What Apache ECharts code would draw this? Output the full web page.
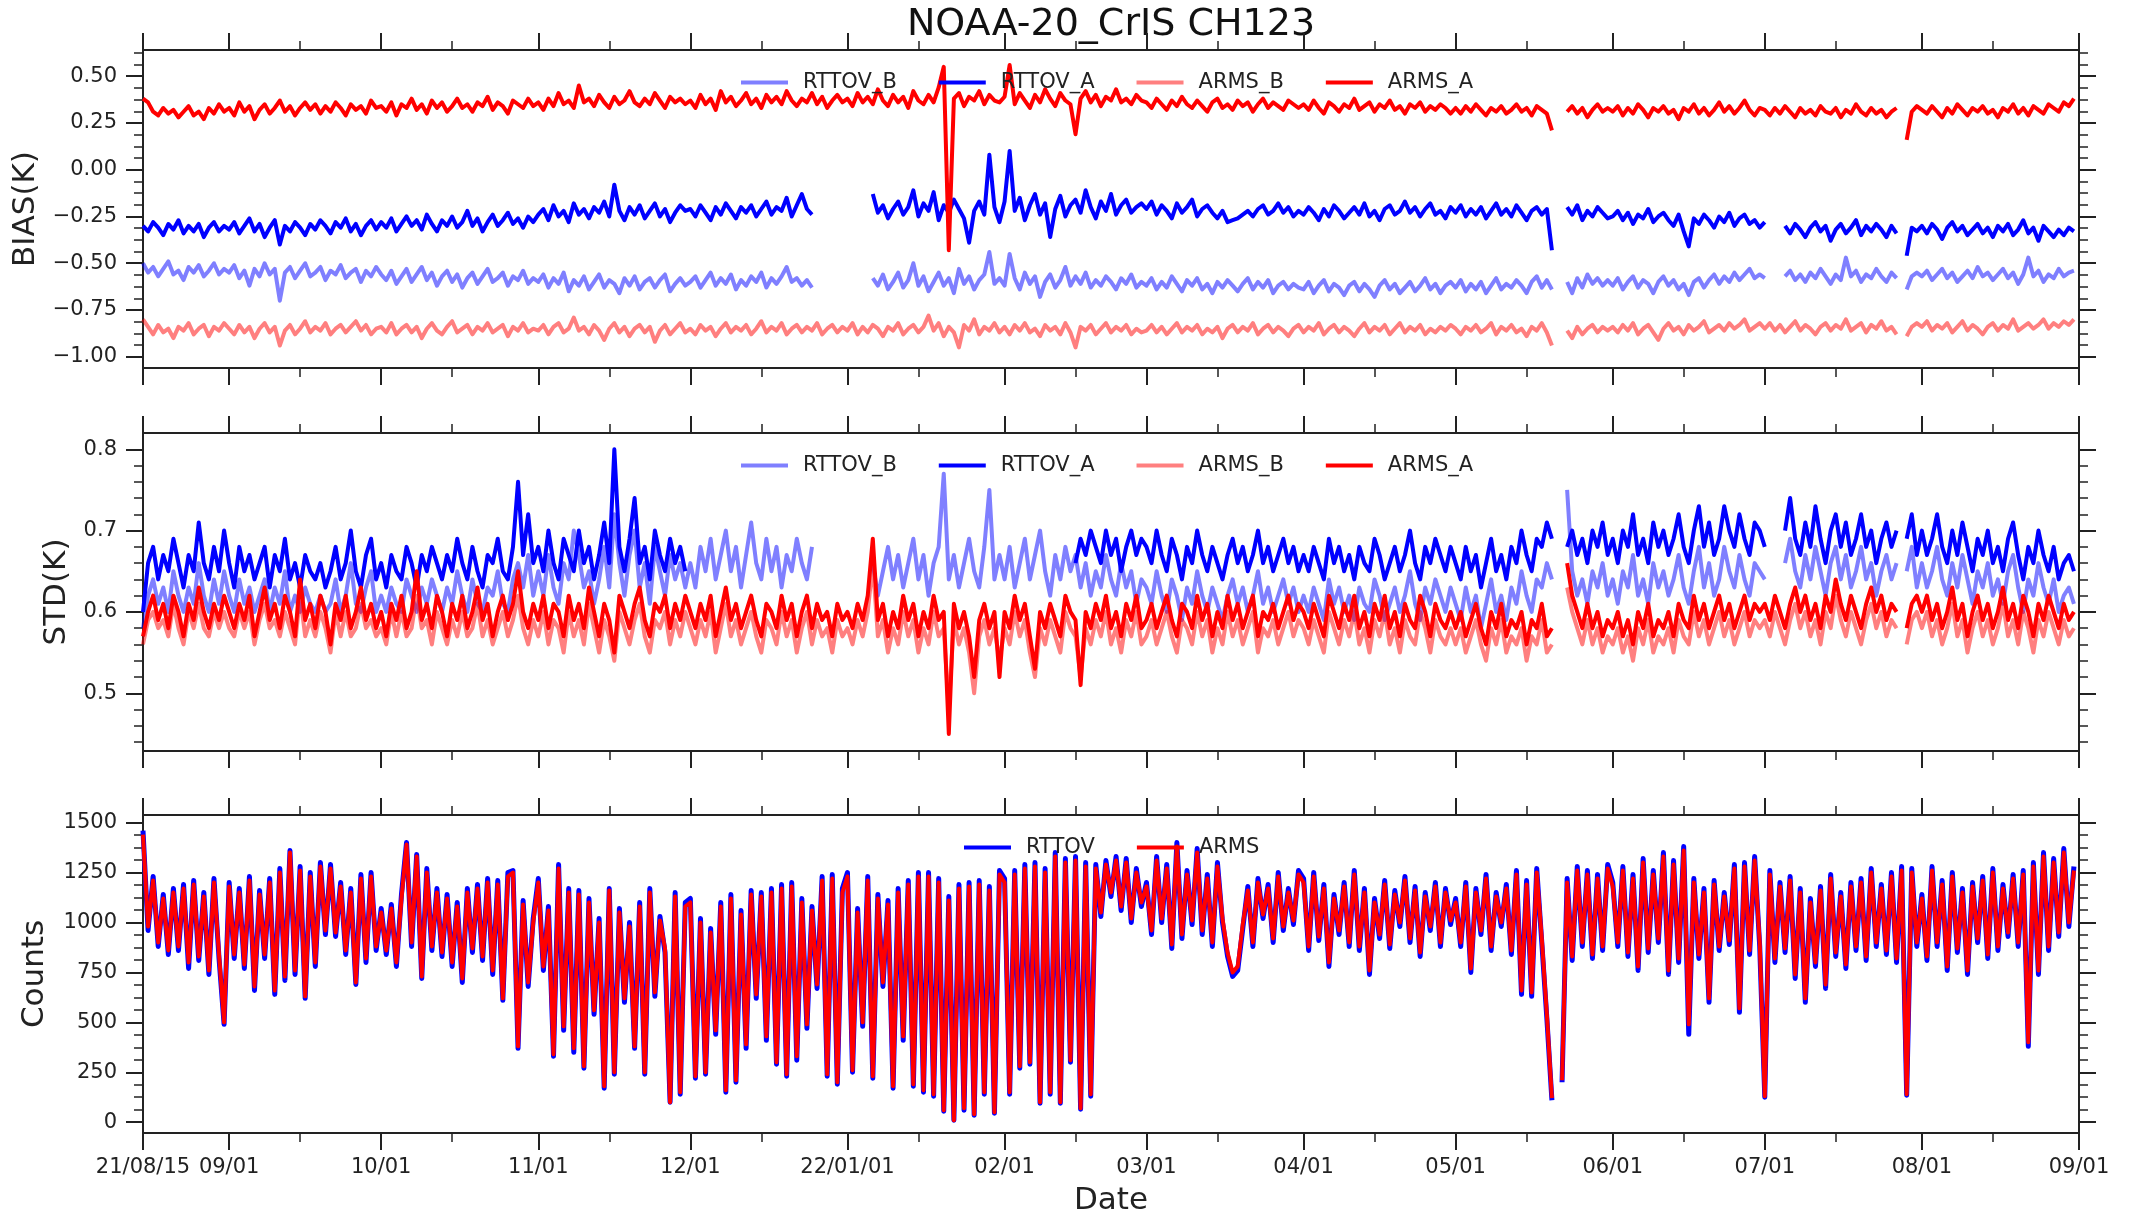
<!DOCTYPE html>
<html>
<head>
<meta charset="utf-8">
<script src="https://cdn.jsdelivr.net/npm/echarts@6.0.0/dist/echarts.min.js"></script>
<style>html,body{margin:0;padding:0;background:#fff;}</style>
</head>
<body>
<div id="main" style="width:2131px;height:1218px;"></div>
<script type="text/javascript">
// one value per day from 2021-08-15 to 2022-08-31, null = no data
// lines per month: Aug(17) Sep Oct Nov Dec Jan Feb Mar Apr May Jun Jul Aug
var biasRttovB = [
-.50,-.55,-.52,-.57,-.53,-.49,-.56,-.54,-.59,-.52,-.55,-.51,-.57,-.54,-.50,-.56,-.53,
-.55,-.51,-.58,-.54,-.62,-.53,-.57,-.50,-.56,-.53,-.70,-.55,-.52,-.58,-.54,-.50,-.57,-.55,-.52,-.59,-.54,-.56,-.51,-.58,-.55,-.53,-.60,-.54,-.57,-.52,
-.56,-.59,-.54,-.61,-.57,-.53,-.60,-.56,-.52,-.59,-.55,-.62,-.57,-.54,-.60,-.56,-.63,-.58,-.55,-.61,-.57,-.53,-.60,-.58,-.55,-.62,-.57,-.59,-.54,-.61,-.58,
-.60,-.56,-.63,-.58,-.61,-.55,-.65,-.59,-.62,-.57,-.64,-.60,-.56,-.63,-.59,-.61,-.66,-.58,-.62,-.57,-.64,-.60,-.58,-.63,-.59,-.56,-.65,-.61,-.58,-.62,
-.60,-.57,-.63,-.59,-.55,-.62,-.58,-.61,-.56,-.64,-.59,-.62,-.57,-.60,-.55,-.63,-.58,-.61,-.57,-.52,-.60,-.58,-.62,-.59,-.63,null,null,null,null,null,null,
null,null,null,null,null,-.58,-.62,-.56,-.64,-.60,-.55,-.63,-.59,-.50,-.62,-.57,-.65,-.60,-.55,-.62,-.58,-.66,-.53,-.61,-.57,-.64,-.59,-.56,-.44,-.61,-.58,
-.62,-.45,-.58,-.64,-.55,-.61,-.57,-.68,-.60,-.56,-.63,-.59,-.52,-.62,-.57,-.61,-.55,-.63,-.59,-.62,-.57,-.60,-.64,-.58,-.61,-.56,-.63,-.60,
-.62,-.58,-.64,-.60,-.63,-.57,-.61,-.65,-.59,-.62,-.58,-.64,-.61,-.66,-.60,-.63,-.59,-.62,-.65,-.61,-.58,-.64,-.60,-.63,-.59,-.66,-.62,-.60,-.64,-.61,-.63,
-.64,-.60,-.66,-.62,-.59,-.65,-.61,-.63,-.67,-.62,-.60,-.65,-.61,-.64,-.68,-.62,-.59,-.64,-.61,-.66,-.63,-.60,-.65,-.62,-.58,-.64,-.61,-.66,-.62,-.60,
-.63,-.59,-.65,-.61,-.64,-.60,-.66,-.62,-.58,-.64,-.61,-.63,-.59,-.62,-.66,-.60,-.57,-.63,-.59,-.64,null,null,-.60,-.66,-.58,-.63,-.56,-.61,-.58,-.62,-.59,
-.62,-.58,-.64,-.60,-.57,-.63,-.59,-.61,-.66,-.60,-.57,-.62,-.59,-.64,-.61,-.67,-.60,-.58,-.63,-.59,-.56,-.61,-.57,-.60,-.55,-.59,-.56,-.53,-.58,-.56,
-.58,null,null,null,-.57,-.54,-.59,-.56,-.60,-.55,-.58,-.53,-.57,-.61,-.56,-.59,-.47,-.57,-.54,-.60,-.56,-.58,-.53,-.57,-.60,-.55,-.58,null,-.64,-.57,-.55,
-.57,-.54,-.59,-.56,-.53,-.58,-.55,-.60,-.57,-.54,-.58,-.52,-.57,-.55,-.59,-.56,-.53,-.58,-.55,-.61,-.56,-.47,-.57,-.54,-.60,-.56,-.58,-.53,-.57,-.55,-.54
];
var biasRttovA = [
-.30,-.33,-.28,-.31,-.35,-.29,-.32,-.27,-.34,-.30,-.33,-.29,-.36,-.31,-.28,-.33,-.30,
-.32,-.28,-.34,-.30,-.26,-.33,-.29,-.36,-.31,-.27,-.40,-.30,-.33,-.28,-.31,-.35,-.29,-.32,-.27,-.30,-.34,-.28,-.31,-.26,-.33,-.29,-.35,-.30,-.27,-.32,
-.28,-.31,-.26,-.33,-.29,-.25,-.30,-.27,-.32,-.24,-.29,-.33,-.27,-.30,-.25,-.31,-.28,-.22,-.30,-.26,-.33,-.28,-.24,-.30,-.27,-.23,-.29,-.26,-.31,-.25,-.28,
-.24,-.21,-.27,-.19,-.25,-.22,-.28,-.18,-.24,-.21,-.26,-.20,-.23,-.17,-.25,-.08,-.22,-.27,-.20,-.24,-.19,-.26,-.22,-.18,-.25,-.21,-.28,-.23,-.19,-.22,
-.21,-.25,-.19,-.23,-.27,-.20,-.24,-.18,-.22,-.26,-.20,-.23,-.19,-.25,-.21,-.17,-.24,-.20,-.22,-.15,-.25,-.19,-.13,-.21,-.24,null,null,null,null,null,null,
null,null,null,null,null,-.13,-.23,-.19,-.26,-.21,-.17,-.24,-.20,-.11,-.25,-.18,-.22,-.12,-.27,-.19,-.23,-.16,-.21,-.26,-.39,-.22,-.17,-.24,.08,-.20,-.28,
-.17,.10,-.22,-.15,-.27,-.19,-.13,-.24,-.18,-.36,-.21,-.14,-.25,-.19,-.16,-.23,-.11,-.20,-.26,-.17,-.22,-.13,-.24,-.19,-.16,-.23,-.20,-.18,
-.21,-.17,-.24,-.19,-.22,-.26,-.18,-.23,-.20,-.16,-.25,-.21,-.19,-.23,-.26,-.22,-.28,-.27,-.26,-.24,-.22,-.25,-.21,-.19,-.24,-.22,-.18,-.23,-.20,-.25,-.22,
-.24,-.20,-.23,-.27,-.21,-.25,-.19,-.22,-.26,-.23,-.20,-.24,-.18,-.25,-.22,-.27,-.21,-.19,-.24,-.22,-.17,-.23,-.20,-.25,-.21,-.18,-.24,-.22,-.26,-.20,
-.23,-.19,-.25,-.21,-.24,-.20,-.26,-.22,-.18,-.24,-.21,-.25,-.19,-.23,-.27,-.22,-.20,-.24,-.21,-.43,null,null,-.20,-.24,-.19,-.27,-.22,-.25,-.20,-.23,-.26,
-.25,-.22,-.27,-.23,-.29,-.24,-.26,-.21,-.28,-.25,-.23,-.27,-.30,-.24,-.33,-.41,-.26,-.29,-.24,-.27,-.31,-.25,-.28,-.23,-.30,-.26,-.24,-.29,-.27,-.31,
-.28,null,null,null,-.30,-.34,-.29,-.32,-.36,-.31,-.28,-.33,-.30,-.38,-.32,-.29,-.34,-.31,-.27,-.35,-.30,-.33,-.29,-.32,-.36,-.30,-.34,null,-.46,-.31,-.33,
-.30,-.34,-.29,-.32,-.37,-.31,-.28,-.33,-.30,-.35,-.32,-.29,-.34,-.31,-.36,-.30,-.33,-.29,-.35,-.32,-.27,-.34,-.31,-.38,-.30,-.33,-.36,-.32,-.35,-.31,-.33
];
var biasArmsB = [
-.80,-.84,-.88,-.83,-.87,-.85,-.90,-.84,-.86,-.82,-.88,-.85,-.83,-.89,-.84,-.86,-.82,
-.85,-.88,-.83,-.87,-.84,-.90,-.85,-.82,-.87,-.84,-.94,-.86,-.83,-.88,-.85,-.81,-.87,-.84,-.86,-.82,-.88,-.85,-.83,-.87,-.84,-.81,-.86,-.83,-.88,-.85,
-.84,-.87,-.82,-.88,-.85,-.83,-.87,-.84,-.90,-.85,-.82,-.86,-.88,-.84,-.81,-.87,-.85,-.83,-.88,-.84,-.86,-.82,-.87,-.85,-.83,-.89,-.84,-.86,-.82,-.87,-.85,
-.86,-.83,-.88,-.84,-.82,-.87,-.85,-.79,-.86,-.84,-.88,-.83,-.86,-.91,-.85,-.82,-.87,-.84,-.89,-.85,-.83,-.87,-.84,-.92,-.86,-.83,-.88,-.85,-.82,-.87,
-.85,-.88,-.83,-.86,-.84,-.89,-.85,-.82,-.87,-.84,-.86,-.83,-.88,-.85,-.81,-.87,-.84,-.86,-.82,-.88,-.85,-.83,-.87,-.84,-.86,-.82,-.88,-.85,-.83,-.87,-.84,
-.86,-.82,-.88,-.84,-.87,-.83,-.85,-.89,-.84,-.86,-.82,-.88,-.85,-.83,-.87,-.84,-.78,-.86,-.82,-.89,-.84,-.87,-.95,-.83,-.86,-.80,-.88,-.84,-.86,-.82,-.87,
-.84,-.88,-.83,-.86,-.82,-.87,-.85,-.89,-.83,-.86,-.84,-.88,-.82,-.87,-.95,-.84,-.86,-.83,-.88,-.85,-.82,-.87,-.84,-.86,-.83,-.88,-.85,-.87,
-.86,-.83,-.87,-.84,-.88,-.85,-.82,-.87,-.84,-.86,-.83,-.88,-.85,-.87,-.84,-.90,-.85,-.83,-.87,-.84,-.86,-.82,-.88,-.85,-.83,-.87,-.84,-.86,-.89,-.85,-.83,
-.87,-.84,-.86,-.82,-.88,-.85,-.83,-.87,-.84,-.86,-.89,-.85,-.82,-.87,-.84,-.86,-.83,-.88,-.85,-.82,-.87,-.84,-.86,-.83,-.88,-.85,-.87,-.84,-.86,-.83,
-.85,-.88,-.84,-.86,-.83,-.87,-.85,-.82,-.88,-.84,-.86,-.83,-.87,-.85,-.89,-.84,-.86,-.82,-.87,-.94,null,null,-.86,-.90,-.84,-.88,-.85,-.83,-.87,-.84,-.86,
-.84,-.87,-.83,-.86,-.82,-.88,-.85,-.83,-.87,-.91,-.85,-.82,-.86,-.84,-.88,-.83,-.86,-.84,-.81,-.87,-.85,-.83,-.86,-.82,-.85,-.83,-.80,-.86,-.84,-.82,
-.85,-.82,-.86,-.83,-.87,-.84,-.81,-.86,-.83,-.85,-.88,-.84,-.82,-.86,-.83,-.85,-.80,-.86,-.84,-.82,-.87,-.83,-.85,-.81,-.86,-.84,-.88,null,-.89,-.84,-.82,
-.84,-.81,-.86,-.83,-.85,-.82,-.87,-.84,-.81,-.86,-.83,-.85,-.88,-.84,-.82,-.86,-.83,-.85,-.80,-.86,-.84,-.82,-.85,-.83,-.80,-.85,-.82,-.84,-.81,-.83,-.80
];
var biasArmsA = [
.38,.36,.31,.29,.33,.30,.32,.28,.31,.34,.29,.31,.27,.33,.30,.35,.31,
.33,.29,.36,.31,.34,.27,.32,.35,.30,.33,.37,.31,.34,.29,.33,.36,.32,.35,.30,.34,.31,.36,.33,.29,.35,.32,.34,.30,.37,.33,
.34,.31,.36,.29,.35,.33,.38,.32,.35,.30,.37,.33,.36,.31,.34,.38,.33,.35,.31,.36,.34,.39,.32,.36,.34,.30,.37,.35,.33,.38,.34,
.36,.32,.38,.34,.41,.35,.37,.33,.45,.36,.38,.34,.40,.36,.33,.39,.35,.37,.42,.36,.34,.38,.35,.41,.37,.33,.39,.36,.38,.35,
.37,.33,.40,.35,.38,.32,.42,.36,.39,.34,.37,.41,.35,.38,.33,.40,.36,.39,.35,.42,.37,.34,.38,.36,.41,.35,.39,.33,.37,.40,.36,
.38,.34,.41,.36,.39,.35,.43,.37,.34,.40,.36,.39,.33,.42,.37,.35,.40,.36,.44,.55,-.43,.38,.41,.34,.39,.37,.42,.35,.40,.37,.36,
.39,.56,.35,.41,.37,.33,.40,.36,.43,.38,.34,.41,.37,.35,.19,.38,.42,.36,.40,.34,.39,.37,.43,.36,.38,.35,.40,.37,
.36,.33,.38,.35,.32,.37,.34,.39,.35,.33,.37,.34,.31,.36,.38,.33,.35,.32,.37,.34,.36,.31,.35,.38,.33,.36,.34,.32,.37,.35,.33,
.35,.32,.37,.33,.30,.36,.34,.31,.35,.33,.38,.32,.34,.36,.31,.35,.33,.37,.32,.34,.30,.35,.33,.36,.31,.34,.32,.35,.33,.30,
.33,.30,.34,.31,.35,.32,.29,.33,.31,.34,.30,.32,.35,.31,.33,.29,.34,.32,.30,.21,null,null,.31,.34,.30,.33,.28,.32,.35,.31,.33,
.31,.34,.29,.33,.30,.35,.32,.28,.33,.31,.34,.30,.32,.27,.33,.31,.35,.30,.33,.29,.32,.36,.31,.34,.30,.33,.37,.32,.29,.33,
.32,.29,.33,.30,.34,.31,.28,.33,.30,.32,.29,.34,.31,.30,.33,.28,.32,.30,.35,.31,.29,.33,.30,.32,.28,.31,.33,null,.16,.31,.34,
.32,.30,.34,.31,.28,.33,.30,.35,.32,.29,.33,.31,.34,.30,.32,.28,.33,.31,.35,.30,.33,.29,.34,.32,.30,.35,.33,.31,.36,.34,.38
];

var stdRttovB = [
.58,.62,.64,.61,.63,.60,.65,.62,.60,.63,.61,.66,.62,.60,.64,.61,.65,
.62,.60,.64,.61,.63,.60,.62,.64,.60,.63,.61,.65,.60,.62,.60,.63,.61,.60,.62,.60,.61,.64,.60,.62,.66,.61,.60,.63,.65,.60,
.62,.60,.63,.61,.60,.64,.62,.60,.63,.61,.64,.62,.60,.63,.61,.65,.62,.60,.64,.61,.60,.63,.62,.65,.61,.60,.64,.66,.63,.67,.62,
.65,.62,.67,.63,.61,.66,.64,.70,.67,.63,.65,.61,.64,.68,.63,.72,.66,.62,.67,.70,.63,.66,.61,.68,.65,.62,.67,.64,.66,.63,
.66,.63,.68,.65,.69,.64,.67,.70,.65,.68,.63,.67,.71,.66,.64,.69,.65,.68,.63,.67,.65,.69,.66,.64,.68,null,null,null,null,null,null,
null,null,null,null,null,.66,.62,.65,.68,.64,.67,.63,.66,.69,.64,.67,.62,.66,.68,.77,.64,.67,.63,.66,.69,.65,.63,.68,.75,.64,.67,
.64,.68,.63,.66,.69,.64,.67,.70,.65,.62,.67,.64,.68,.65,.67,.63,.66,.62,.65,.63,.67,.64,.62,.66,.63,.65,.61,.64,
.63,.61,.65,.62,.60,.64,.62,.59,.63,.61,.65,.62,.60,.63,.61,.59,.62,.64,.61,.63,.60,.62,.65,.61,.63,.60,.62,.64,.61,.63,.60,
.62,.60,.63,.61,.59,.64,.61,.63,.60,.62,.59,.63,.61,.60,.64,.62,.59,.61,.63,.60,.62,.65,.61,.59,.63,.61,.64,.62,.60,.63,
.61,.59,.63,.60,.62,.58,.61,.64,.60,.62,.59,.63,.61,.65,.62,.60,.64,.63,.66,.64,null,null,.75,.65,.62,.64,.61,.65,.63,.66,.62,
.64,.61,.65,.63,.67,.62,.64,.61,.66,.63,.65,.62,.64,.67,.63,.61,.65,.68,.63,.66,.62,.64,.68,.65,.63,.67,.64,.62,.66,.65,
.64,null,null,null,.66,.69,.65,.63,.67,.64,.68,.65,.62,.66,.68,.64,.67,.63,.65,.68,.64,.66,.62,.65,.67,.64,.66,null,.65,.68,.63,
.66,.63,.65,.68,.64,.62,.66,.63,.67,.64,.61,.65,.63,.66,.62,.64,.61,.65,.67,.63,.60,.64,.62,.66,.63,.61,.64,.60,.62,.63,.61
];
var stdRttovA = [
.60,.66,.68,.64,.67,.65,.69,.66,.63,.67,.65,.71,.66,.64,.68,.65,.70,
.66,.63,.68,.65,.67,.64,.66,.68,.63,.67,.65,.69,.64,.66,.63,.67,.65,.64,.66,.63,.65,.68,.64,.66,.70,.65,.63,.67,.69,.64,
.66,.63,.67,.65,.64,.68,.66,.63,.67,.65,.68,.66,.64,.67,.65,.69,.66,.64,.68,.65,.63,.67,.66,.69,.65,.64,.68,.76,.67,.72,.66,
.68,.65,.70,.66,.64,.69,.67,.65,.70,.66,.68,.64,.67,.71,.66,.80,.68,.65,.69,.74,.66,.68,.64,.70,.67,.65,.69,.66,.68,.65,
null,null,null,null,null,null,null,null,null,null,null,null,null,null,null,null,null,null,null,null,null,null,null,null,null,null,null,null,null,null,null,
null,null,null,null,null,null,null,null,null,null,null,null,null,null,null,null,null,null,null,null,null,null,null,null,null,null,null,null,null,null,null,
null,null,null,null,null,null,null,null,null,null,null,null,null,null,.66,.69,.67,.70,.68,.66,.70,.67,.69,.65,.68,.70,.67,.69,
.68,.66,.70,.67,.65,.69,.67,.64,.68,.66,.70,.67,.65,.68,.66,.64,.67,.69,.66,.68,.65,.67,.70,.66,.68,.65,.67,.69,.66,.68,.65,
.67,.65,.68,.66,.64,.69,.66,.68,.65,.67,.64,.68,.66,.65,.69,.67,.64,.66,.68,.65,.67,.70,.66,.64,.68,.66,.69,.67,.65,.68,
.66,.64,.68,.65,.67,.63,.66,.69,.65,.67,.64,.68,.66,.70,.67,.65,.69,.68,.71,.69,null,null,.68,.70,.67,.69,.66,.70,.68,.71,.67,
.69,.66,.70,.68,.72,.67,.69,.66,.71,.68,.70,.67,.69,.72,.68,.66,.70,.73,.68,.71,.67,.69,.73,.70,.68,.72,.69,.67,.71,.70,
.68,null,null,null,.70,.74,.69,.67,.71,.68,.73,.69,.66,.70,.72,.68,.71,.67,.69,.72,.68,.70,.66,.69,.71,.68,.70,null,.69,.72,.67,
.70,.67,.69,.72,.68,.66,.70,.67,.71,.68,.65,.69,.67,.70,.66,.68,.65,.69,.71,.67,.64,.68,.66,.70,.67,.65,.68,.64,.66,.67,.65
];
var stdArmsB = [
.56,.59,.60,.58,.59,.57,.61,.58,.56,.60,.58,.61,.58,.57,.60,.58,.60,
.58,.57,.60,.58,.60,.56,.59,.61,.58,.59,.57,.60,.58,.56,.62,.57,.59,.57,.60,.58,.55,.60,.57,.60,.57,.58,.61,.58,.59,.57,
.58,.56,.60,.57,.60,.57,.58,.62,.58,.59,.56,.60,.58,.56,.59,.57,.60,.57,.58,.61,.57,.59,.56,.58,.60,.57,.59,.62,.58,.56,.59,
.57,.60,.56,.59,.58,.55,.60,.57,.59,.56,.61,.58,.55,.59,.57,.54,.60,.58,.56,.59,.61,.57,.55,.59,.58,.60,.56,.59,.57,.60,
.58,.56,.59,.57,.60,.55,.58,.61,.57,.59,.56,.58,.60,.57,.55,.59,.58,.56,.60,.57,.59,.55,.58,.60,.56,.59,.57,.58,.55,.59,.57,
.58,.56,.59,.57,.60,.66,.57,.59,.55,.58,.56,.60,.57,.59,.55,.58,.56,.60,.57,.58,.48,.59,.56,.58,.55,.50,.57,.59,.56,.58,.54,
.58,.56,.60,.57,.59,.55,.52,.58,.56,.59,.57,.55,.60,.58,.57,.52,.58,.56,.59,.57,.60,.56,.58,.55,.59,.57,.60,.56,
.57,.59,.56,.58,.60,.57,.55,.59,.58,.56,.60,.57,.59,.55,.58,.56,.60,.57,.59,.56,.58,.60,.55,.58,.57,.59,.56,.58,.60,.57,.59,
.58,.56,.59,.57,.55,.60,.58,.56,.59,.57,.60,.56,.58,.55,.59,.57,.60,.56,.58,.55,.59,.57,.56,.60,.58,.55,.59,.57,.56,.58,
.56,.58,.55,.57,.59,.56,.54,.58,.56,.59,.55,.57,.56,.58,.54,.57,.56,.59,.55,.56,null,null,.63,.60,.58,.56,.59,.56,.58,.55,.57,
.56,.58,.55,.57,.54,.58,.56,.59,.55,.57,.56,.58,.55,.59,.57,.56,.60,.57,.59,.56,.58,.60,.57,.59,.56,.58,.60,.57,.59,.58,
.59,.57,.60,.58,.56,.59,.61,.58,.60,.57,.59,.56,.60,.58,.62,.59,.57,.60,.58,.56,.59,.61,.58,.60,.57,.59,.58,null,.56,.59,.60,
.58,.60,.57,.59,.56,.58,.61,.57,.59,.55,.58,.60,.57,.59,.56,.58,.61,.57,.59,.56,.60,.58,.55,.59,.57,.60,.58,.56,.59,.57,.58
];
var stdArmsA = [
.57,.60,.62,.59,.61,.58,.62,.60,.57,.61,.59,.63,.60,.58,.61,.59,.62,
.60,.58,.61,.59,.62,.57,.60,.63,.59,.61,.58,.62,.60,.57,.64,.59,.61,.58,.62,.60,.56,.61,.59,.62,.58,.60,.63,.59,.61,.58,
.60,.57,.61,.59,.62,.58,.60,.65,.59,.61,.58,.62,.60,.57,.61,.59,.62,.58,.60,.63,.59,.61,.57,.60,.62,.59,.61,.65,.60,.58,.61,
.59,.62,.58,.61,.60,.57,.62,.59,.61,.58,.63,.60,.57,.61,.59,.55,.62,.60,.58,.61,.63,.59,.57,.61,.60,.62,.58,.61,.59,.62,
.60,.58,.61,.59,.62,.57,.60,.63,.59,.61,.58,.60,.62,.59,.57,.61,.60,.58,.62,.59,.61,.57,.60,.62,.58,.61,.59,.60,.57,.61,.59,
.60,.58,.61,.59,.62,.69,.59,.61,.57,.60,.58,.62,.59,.61,.57,.60,.58,.62,.59,.60,.45,.61,.58,.60,.57,.52,.59,.61,.58,.60,.52,
.60,.58,.62,.59,.61,.57,.53,.60,.58,.61,.59,.57,.62,.60,.59,.51,.60,.58,.61,.59,.62,.58,.60,.57,.61,.59,.62,.58,
.59,.61,.58,.60,.62,.59,.57,.61,.60,.58,.62,.59,.61,.57,.60,.58,.62,.59,.61,.58,.60,.62,.57,.60,.59,.61,.58,.60,.62,.59,.61,
.60,.58,.61,.59,.57,.62,.60,.58,.61,.59,.62,.58,.60,.57,.61,.59,.62,.58,.60,.57,.61,.59,.58,.62,.60,.57,.61,.59,.58,.60,
.58,.60,.57,.59,.61,.58,.56,.60,.58,.61,.57,.59,.58,.60,.56,.59,.58,.61,.57,.58,null,null,.66,.62,.60,.58,.61,.58,.60,.57,.59,
.58,.60,.57,.59,.56,.60,.58,.61,.57,.59,.58,.60,.57,.61,.59,.58,.62,.59,.61,.58,.60,.62,.59,.61,.58,.60,.62,.59,.61,.60,
.61,.59,.62,.60,.58,.61,.63,.60,.62,.59,.61,.58,.62,.60,.64,.61,.59,.62,.60,.58,.61,.63,.60,.62,.59,.61,.60,null,.58,.61,.62,
.60,.62,.59,.61,.58,.60,.63,.59,.61,.57,.60,.62,.59,.61,.58,.60,.63,.59,.61,.58,.62,.60,.57,.61,.59,.62,.60,.58,.61,.59,.60
];

var countRttov = [
1460,960,1230,880,1140,840,1170,860,1190,770,1210,810,1150,740,1220,820,490,
1200,820,1170,770,1230,660,1160,820,1220,640,1270,710,1360,740,1280,620,1250,780,1300,940,1290,930,1200,840,1170,690,1240,800,1250,860,
1070,840,1090,780,1140,1400,880,1340,720,1270,860,1170,830,1140,780,1100,700,1170,850,1190,810,1220,740,1210,610,1250,1260,370,1110,680,1020,
1220,760,1080,330,1290,460,1170,350,1160,270,1120,540,1020,170,1170,240,1070,600,1000,370,1100,240,1170,630,1030,850,100,1150,140,1100,
1120,220,1020,240,970,440,1100,150,1140,200,1060,370,1160,620,1150,410,1170,290,1190,230,1200,310,1120,470,1080,670,1230,230,1240,190,1170,
1250,250,1070,480,1230,220,1140,680,1110,170,1170,410,1210,180,1250,150,1250,130,1220,55,1130,10,1190,60,1200,35,1210,140,1180,45,1260,
1220,140,1260,270,1290,290,1300,95,1270,140,1350,95,1320,300,1330,65,1300,130,1290,1030,1310,1130,1330,1060,1320,1000,1270,1080,
1200,940,1330,1000,1290,870,1400,920,1260,990,1370,940,1240,880,1300,1000,830,730,760,970,1180,880,1220,1020,1190,900,1250,960,1170,990,1260,
1220,860,1250,910,1190,780,1140,940,1200,880,1260,860,1170,740,1120,920,1210,870,1160,980,1230,900,1180,830,1150,960,1200,880,1170,990,
1120,880,1200,750,1170,940,1240,860,1150,980,1190,840,1260,640,1210,630,1270,900,520,110,null,200,1220,810,1280,880,1260,820,1240,860,1290,
1200,880,1280,830,1240,760,1320,850,1260,900,1350,740,1310,800,1380,440,1220,820,1170,600,1210,860,1150,890,1290,550,1300,840,1330,880,
125,1260,800,1200,850,1230,720,1170,600,1120,780,1180,670,1240,830,1150,770,1200,860,1220,810,1270,880,1190,840,1250,800,1280,135,1270,880,
1140,810,1280,880,1210,760,1250,850,1170,740,1200,900,1230,820,1270,860,1190,930,1240,880,1260,380,1300,740,1350,860,1320,930,1370,980,1280
];
var countArms = [
1440,980,1210,900,1120,860,1150,880,1170,800,1190,830,1130,760,1200,840,500,
1180,840,1150,790,1210,680,1140,840,1200,660,1250,730,1350,760,1260,630,1230,800,1280,960,1270,950,1180,860,1150,700,1220,820,1230,880,
1050,860,1070,800,1120,1390,900,1330,730,1250,880,1150,850,1120,800,1080,720,1150,870,1170,830,1200,760,1190,620,1230,1250,380,1090,700,1000,
1200,780,1060,340,1270,480,1150,370,1140,280,1100,560,1000,180,1160,250,1050,620,980,380,1080,250,1150,650,1010,870,100,1130,150,1080,
1100,230,1000,250,950,460,1080,160,1120,210,1040,390,1140,640,1130,430,1150,300,1170,240,1180,330,1100,490,1060,690,1210,240,1220,200,1150,
1230,260,1050,500,1210,230,1120,700,1090,180,1150,430,1190,190,1230,160,1230,140,1200,60,1110,10,1170,70,1180,40,1190,150,1160,50,1240,
1200,150,1240,280,1270,300,1280,100,1250,150,1330,100,1300,310,1310,70,1280,140,1270,1050,1290,1150,1310,1080,1300,1020,1250,1100,
1180,960,1310,1020,1270,890,1380,940,1240,1010,1350,960,1220,900,1280,1020,850,750,780,990,1160,900,1200,1040,1170,920,1230,980,1150,1010,1240,
1200,880,1230,930,1170,800,1120,960,1180,900,1240,880,1150,760,1100,940,1190,890,1140,1000,1210,920,1160,850,1130,980,1180,900,1150,1010,
1100,900,1180,770,1150,960,1220,880,1130,1000,1170,860,1240,660,1190,650,1250,920,540,120,null,210,1200,830,1260,900,1240,840,1220,880,1270,
1180,900,1260,850,1220,780,1300,870,1240,920,1330,760,1290,820,1360,490,1200,840,1150,620,1190,880,1130,910,1270,570,1280,860,1310,900,
130,1240,820,1180,870,1210,740,1150,620,1100,800,1160,690,1220,850,1130,790,1180,880,1200,830,1250,900,1170,860,1230,820,1260,140,1250,900,
1120,830,1260,900,1190,780,1230,870,1150,760,1180,920,1210,840,1250,880,1170,950,1220,900,1240,400,1280,760,1330,880,1300,950,1350,1000,1260
];

// axis ticks and labels
var xMajorDates = ['2021-08-15','2021-09-01','2021-10-01','2021-11-01','2021-12-01','2022-01-01','2022-02-01',
    '2022-03-01','2022-04-01','2022-05-01','2022-06-01','2022-07-01','2022-08-01','2022-09-01'];
var xMajorLabels = ['21/08/15','09/01','10/01','11/01','12/01','22/01/01','02/01',
    '03/01','04/01','05/01','06/01','07/01','08/01','09/01'];
var xMinorDates = ['2021-09-15','2021-10-15','2021-11-15','2021-12-15','2022-01-15','2022-02-15',
    '2022-03-15','2022-04-15','2022-05-15','2022-06-15','2022-07-15','2022-08-15'];
var biasTicks = [-1.0,-0.75,-0.5,-0.25,0,0.25,0.5];
var stdTicks = [0.5,0.6,0.7,0.8];
var countTicks = [0,250,500,750,1000,1250,1500];

var FONT = 'DejaVu Sans';
var INK = '#222';
var DAY = 86400000;
var LW = 4;
function ts(s) { return Date.parse(s + 'T00:00:00Z'); }

var t0 = ts('2021-08-15');
var days = [];
for (var i = 0; i < biasArmsA.length; i++) days.push(t0 + i * DAY);
function pairs(vals) { return vals.map(function (v, i) { return [days[i], v]; }); }

var xMajor = xMajorDates.map(ts);
var xMinor = xMinorDates.map(ts);
var xLabelOf = {};
xMajor.forEach(function (t, i) { xLabelOf[t] = xMajorLabels[i]; });

function steps(from, to, step) {
    var out = [];
    for (var k = Math.ceil(from / step - 1e-9); k * step <= to + 1e-9; k++) out.push(+(k * step).toFixed(6));
    return out;
}

var panels = [
    {top: 50, name: 'BIAS(K)', nameGap: 101, min: -1.06, max: 0.64, ticks: biasTicks, minor: steps(-1.06, 0.64, 0.0625),
        fmt: function (v) { return (v < -1e-9 ? '\u2212' : '') + Math.abs(v).toFixed(2); }},
    {top: 433, name: 'STD(K)', nameGap: 71, min: 0.429, max: 0.82, ticks: stdTicks, minor: steps(0.429, 0.815, 0.02),
        fmt: function (v) { return v.toFixed(1); }},
    {top: 815, name: 'Counts', nameGap: 93, min: -54, max: 1538, ticks: countTicks, minor: steps(-54, 1538, 62.5),
        fmt: function (v) { return String(v); }}
];

var lineStyleAxis = {color: INK, width: 2};
var grids = [], xAxes = [], yAxes = [];
var X_MIN = ts('2021-08-15'), X_MAX = ts('2022-09-01');
panels.forEach(function (p, g) {
    grids.push({left: 143, right: 52, top: p.top, height: 318, outerBoundsMode: 'none'});
    var last = g === panels.length - 1;
    var xb = {gridIndex: g, type: 'value', min: X_MIN, max: X_MAX, splitLine: {show: false}};
    xAxes.push(Object.assign({}, xb, {
        position: 'bottom',
        axisLine: {show: true, onZero: false, lineStyle: lineStyleAxis},
        axisTick: {show: true, customValues: xMajor, length: 17, lineStyle: {color: INK, width: 2}},
        axisLabel: {show: last, customValues: xMajor, margin: 24, fontSize: 21, color: INK, fontFamily: FONT,
            formatter: function (v) { return xLabelOf[v] || ''; }},
        name: last ? 'Date' : '', nameLocation: 'middle', nameGap: 52,
        nameTextStyle: {fontSize: 31, color: INK, fontFamily: FONT}
    }));
    xAxes.push(Object.assign({}, xb, {
        position: 'bottom', axisLine: {show: false, onZero: false},
        axisTick: {show: true, customValues: xMinor, length: 9, lineStyle: {color: INK, width: 1.5}},
        axisLabel: {show: false}
    }));
    xAxes.push(Object.assign({}, xb, {
        position: 'top', axisLine: {show: true, onZero: false, lineStyle: lineStyleAxis},
        axisTick: {show: true, customValues: xMajor, length: 17, lineStyle: {color: INK, width: 2}},
        axisLabel: {show: false}
    }));
    xAxes.push(Object.assign({}, xb, {
        position: 'top', axisLine: {show: false, onZero: false},
        axisTick: {show: true, customValues: xMinor, length: 9, lineStyle: {color: INK, width: 1.5}},
        axisLabel: {show: false}
    }));

    var yb = {gridIndex: g, type: 'value', min: p.min, max: p.max, splitLine: {show: false}};
    yAxes.push(Object.assign({}, yb, {
        position: 'left',
        axisLine: {show: true, onZero: false, lineStyle: lineStyleAxis},
        axisTick: {show: true, customValues: p.ticks, length: 17, lineStyle: {color: INK, width: 2}},
        axisLabel: {show: true, customValues: p.ticks, margin: 26, fontSize: 21, color: INK, fontFamily: FONT, formatter: p.fmt},
        name: p.name, nameLocation: 'middle', nameGap: p.nameGap,
        nameTextStyle: {fontSize: 31, color: INK, fontFamily: FONT}
    }));
    yAxes.push(Object.assign({}, yb, {
        position: 'left', axisLine: {show: false, onZero: false},
        axisTick: {show: true, customValues: p.minor, length: 9, lineStyle: {color: INK, width: 1.5}},
        axisLabel: {show: false}
    }));
    yAxes.push(Object.assign({}, yb, {
        position: 'right', axisLine: {show: true, onZero: false, lineStyle: lineStyleAxis},
        axisTick: {show: true, customValues: p.ticks, length: 17, lineStyle: {color: INK, width: 2}},
        axisLabel: {show: false}
    }));
    yAxes.push(Object.assign({}, yb, {
        position: 'right', axisLine: {show: false, onZero: false},
        axisTick: {show: true, customValues: p.minor, length: 9, lineStyle: {color: INK, width: 1.5}},
        axisLabel: {show: false}
    }));
});

var C_RB = 'rgba(0,0,255,0.5)', C_RA = '#0000ff', C_AB = 'rgba(255,0,0,0.5)', C_AA = '#ff0000';
function line(name, g, vals, color, width) {
    return {
        type: 'line', name: name, xAxisIndex: g * 4, yAxisIndex: g * 4,
        data: pairs(vals), showSymbol: false, symbol: 'none', connectNulls: false,
        lineStyle: {color: color, width: width || LW, join: 'round'}, itemStyle: {color: color}, silent: true
    };
}

var legendBase = {
    icon: 'rect', itemWidth: 47, itemHeight: 4, itemGap: 42, selectedMode: false,
    textStyle: {fontSize: 21, color: INK, fontFamily: FONT, padding: [0, 0, 0, 10]}
};

var myChart = echarts.init(document.getElementById('main'));
myChart.setOption({
    animation: false,
    backgroundColor: '#fff',
    textStyle: {fontFamily: FONT},
    grid: grids,
    xAxis: xAxes,
    yAxis: yAxes,
    legend: [
        Object.assign({}, legendBase, {left: 736, top: 67, data: ['RTTOV_B', 'RTTOV_A', 'ARMS_B', 'ARMS_A']}),
        Object.assign({}, legendBase, {left: 736, top: 450, data: ['RTTOV_B', 'RTTOV_A', 'ARMS_B', 'ARMS_A']}),
        Object.assign({}, legendBase, {left: 959, top: 832, data: ['RTTOV', 'ARMS']})
    ],
    graphic: [{
        type: 'text', x: 1111, y: 25,
        style: {text: 'NOAA-20_CrIS CH123', fill: '#111', font: '38px "DejaVu Sans"', align: 'center', verticalAlign: 'middle'}
    }],
    series: [
        line('RTTOV_B', 0, biasRttovB, C_RB),
        line('RTTOV_A', 0, biasRttovA, C_RA),
        line('ARMS_B', 0, biasArmsB, C_AB),
        line('ARMS_A', 0, biasArmsA, C_AA),
        line('RTTOV_B', 1, stdRttovB, C_RB),
        line('RTTOV_A', 1, stdRttovA, C_RA),
        line('ARMS_B', 1, stdArmsB, C_AB),
        line('ARMS_A', 1, stdArmsA, C_AA),
        line('RTTOV', 2, countRttov, C_RA, 5),
        line('ARMS', 2, countArms, C_AA, 4)
    ]
});

var lens = {biasRttovB: biasRttovB, biasRttovA: biasRttovA, biasArmsB: biasArmsB, biasArmsA: biasArmsA,
    stdRttovB: stdRttovB, stdRttovA: stdRttovA, stdArmsB: stdArmsB, stdArmsA: stdArmsA,
    countRttov: countRttov, countArms: countArms};
var bad = Object.keys(lens).filter(function (k) { return lens[k].length !== 382; })
    .map(function (k) { return k + '=' + lens[k].length; });
if (bad.length) throw new Error('length mismatch: ' + bad.join(', '));
</script>
</body>
</html>
